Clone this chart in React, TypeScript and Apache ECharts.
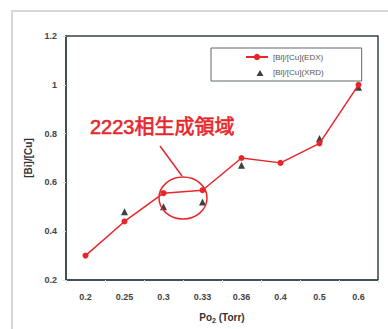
import React, { useEffect, useRef } from "react";
import * as echarts from "echarts";

const categories = ["0.2", "0.25", "0.3", "0.33", "0.36", "0.4", "0.5", "0.6"];
const edxValues = [0.3, 0.44, 0.556, 0.568, 0.7, 0.68, 0.76, 1.0];
const xrdValues: (number | string)[] = ["-", 0.48, 0.5, 0.52, 0.67, "-", 0.78, 0.99];
const yTicks = { min: 0.2, max: 1.2, interval: 0.2 };

export default function App() {
  const ref = useRef<HTMLDivElement>(null);
  useEffect(() => {
    document.body.style.margin = "0";
    const chart = echarts.init(ref.current!, undefined, { renderer: "svg" });
    const font = "Liberation Sans, Arial, sans-serif";
    chart.setOption({
      animation: false,
      backgroundColor: "#ffffff",
      textStyle: { fontFamily: font },
      grid: {
        left: 66,
        top: 36,
        right: 10,
        bottom: 45,
        show: true,
        borderColor: "#34464a",
        borderWidth: 1.5,
        containLabel: false,
      },
      legend: {
        orient: "vertical",
        left: 211,
        top: 48,
        padding: [5, 38, 5, 34],
        itemGap: 7,
        itemWidth: 22,
        itemHeight: 8,
        borderColor: "#5a6a6e",
        borderWidth: 1,
        textStyle: { fontSize: 8, color: "#555", fontFamily: font },
        data: [
          { name: "[Bi]/[Cu](EDX)" },
          {
            name: "[Bi]/[Cu](XRD)",
            icon: "path://M0,0L0.01,0M22,8L22.01,8M14,2L17.5,8L10.5,8Z",
          },
        ],
      },
      xAxis: {
        type: "category",
        data: categories,
        boundaryGap: true,
        axisLine: { show: true, lineStyle: { color: "#34464a", width: 1.5 } },
        axisTick: { show: true, length: 3, lineStyle: { color: "#ddd" } },
        axisLabel: { fontSize: 9, color: "#444", fontWeight: "bold", margin: 12 },
        name: "{a|Po}{s|2}{a| (Torr)}",
        nameLocation: "middle",
        nameGap: 31,
        nameTextStyle: {
          rich: {
            a: { fontSize: 10, fontWeight: "bold", color: "#333", fontFamily: font },
            s: { fontSize: 7, fontWeight: "bold", color: "#333", fontFamily: font, padding: [6, 0, 0, 0] },
          },
        },
      },
      yAxis: {
        type: "value",
        min: yTicks.min,
        max: yTicks.max,
        interval: yTicks.interval,
        splitLine: { show: false },
        axisLine: { show: true, lineStyle: { color: "#34464a", width: 1.5 } },
        axisTick: { show: true, length: 3, lineStyle: { color: "#ddd" } },
        axisLabel: {
          fontSize: 9,
          color: "#444",
          fontWeight: "bold",
          margin: 9,
          formatter: (v: number) => String(Math.round(v * 10) / 10),
        },
        name: "[Bi]/[Cu]",
        nameLocation: "middle",
        nameGap: 22,
        nameTextStyle: { fontSize: 10, fontWeight: "bold", color: "#333" },
      },
      graphic: [
        {
          type: "rect",
          shape: { x: 12, y: 11, width: 420, height: 340 },
          style: { fill: "none", stroke: "#d6d6d6", lineWidth: 2 },
          silent: true,
        },
        {
          type: "ellipse",
          shape: { cx: 183, cy: 198, rx: 24, ry: 21 },
          style: { fill: "none", stroke: "#e8262a", lineWidth: 1.5 },
          z: 10,
        },
        {
          type: "line",
          shape: { x1: 160, y1: 146, x2: 182, y2: 176 },
          style: { stroke: "#e8262a", lineWidth: 1.5 },
          z: 10,
        },
        {
          type: "text",
          x: 90,
          y: 127,
          style: {
            text: "2223相生成領域",
            fill: "#e8262a",
            stroke: "#e8262a",
            lineWidth: 0.6,
            font: "20px 'Liberation Sans', 'Noto Sans CJK JP', sans-serif",
            verticalAlign: "middle",
            align: "left",
          },
          z: 10,
        },
      ],
      series: [
        {
          name: "[Bi]/[Cu](EDX)",
          type: "line",
          data: edxValues,
          symbol: "circle",
          symbolSize: 6,
          itemStyle: { color: "#e8262a" },
          lineStyle: { color: "#e8262a", width: 1.5 },
          z: 3,
        },
        {
          name: "[Bi]/[Cu](XRD)",
          type: "scatter",
          data: xrdValues,
          symbol: "triangle",
          symbolSize: 7,
          itemStyle: { color: "#111" },
          z: 2,
        },
      ],
    });
    return () => chart.dispose();
  }, []);
  return <div ref={ref} style={{ width: 388, height: 329, position: "absolute", left: 0, top: 0 }} />;
}
